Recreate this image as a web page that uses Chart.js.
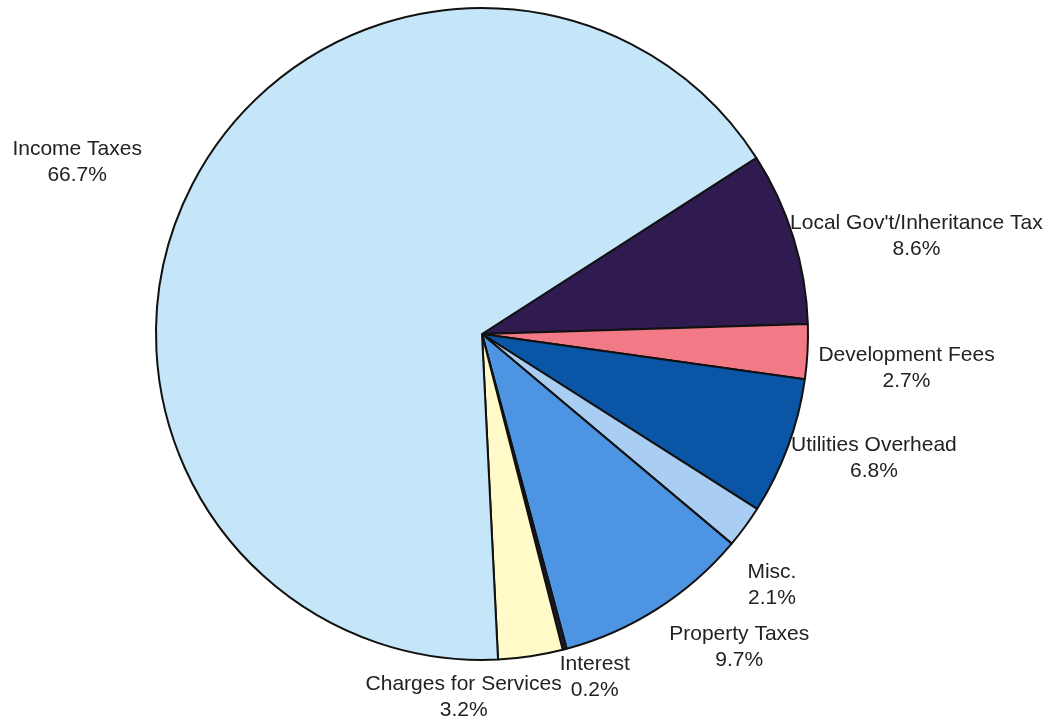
<!DOCTYPE html>
<html>
<head>
<meta charset="utf-8">
<script src="https://cdn.jsdelivr.net/npm/chart.js@4/dist/chart.umd.min.js"></script>
<style>
  html, body { margin: 0; padding: 0; background: #fff; }
  #revenue { display: block; }
</style>
</head>
<body>
<canvas id="revenue" width="1052" height="721"></canvas>
<script>
// revenue sources, clockwise starting at the upper right edge of Income Taxes
const labels = ['Local Gov\'t/Inheritance Tax', 'Development Fees', 'Utilities Overhead', 'Misc.',
    'Property Taxes', 'Interest', 'Charges for Services', 'Income Taxes']
const shares = [8.6, 2.7, 6.8, 2.1, 9.7, 0.2, 3.2, 66.7]
const colors = ['#2f1b50', '#f27a86', '#0a55a6', '#a9cdf3', '#4d95e3', '#1c1c2c', '#fffac8', '#c4e6f8']

// where each label sits, relative to the middle of its slice edge
const labelOffsets = [[123, -1], [99, 16], [86, 12], [27, 58], [82, 38], [30, 28], [-67, 41], [-115, -23]]

const sliceLabels = {
    id: 'sliceLabels',
    afterDatasetsDraw(chart) {
        const c = chart.ctx
        const arcs = chart.getDatasetMeta(0).data
        c.save()
        c.font = '21px "Liberation Sans", Arial, sans-serif'
        c.fillStyle = '#222'
        c.textAlign = 'center'
        c.textBaseline = 'middle'
        arcs.forEach(function(arc, i) {
            const p = arc.getProps(['x', 'y', 'startAngle', 'endAngle', 'outerRadius'], true)
            const mid = (p.startAngle + p.endAngle) / 2
            const x = p.x + Math.cos(mid) * p.outerRadius + labelOffsets[i][0]
            const y = p.y + Math.sin(mid) * p.outerRadius + labelOffsets[i][1]
            c.fillText(labels[i], x, y - 13)
            c.fillText(shares[i].toFixed(1) + '%', x, y + 13)
        })
        c.restore()
    }
}

const canvas = document.getElementById('revenue')
new Chart(canvas, {
    type: 'pie',
    data: {
        labels: labels,
        datasets: [{
            data: shares,
            backgroundColor: colors,
            borderColor: '#111',
            borderWidth: 2
        }]
    },
    options: {
        responsive: false,
        animation: false,
        rotation: 57.3,
        layout: {
            padding: { top: 7, bottom: 60, left: 100, right: 188 }
        },
        plugins: {
            legend: { display: false },
            tooltip: { enabled: false }
        }
    },
    plugins: [sliceLabels]
})
</script>
</body>
</html>
